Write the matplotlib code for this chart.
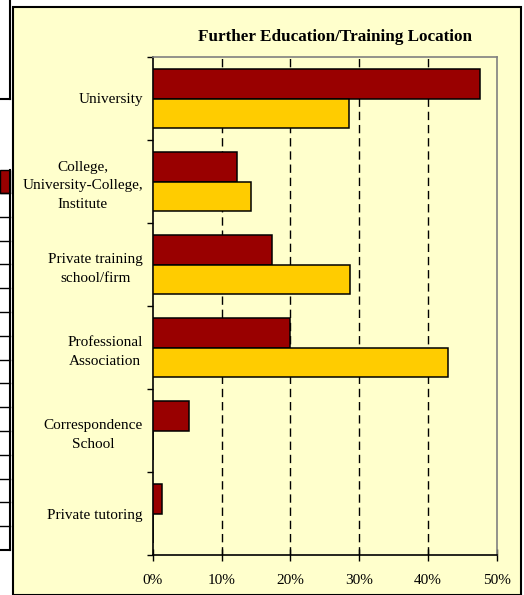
import numpy as np
import matplotlib
matplotlib.use("Agg")
import matplotlib.pyplot as plt
from matplotlib.patches import Rectangle
from matplotlib.lines import Line2D

# 数据
categories = [
    "University",
    "College,\nUniversity-College,\nInstitute",
    "Private training\nschool/firm",
    "Professional\nAssociation",
    "Correspondence\nSchool",
    "Private tutoring",
]
series_red = [47.5, 12.2, 17.3, 19.9, 5.2, 1.3]
series_yellow = [28.5, 14.3, 28.6, 42.9, 0.0, 0.0]
x_ticks = [0, 10, 20, 30, 40, 50]
x_labels = ["0%", "10%", "20%", "30%", "40%", "50%"]
title = "Further Education/Training Location"

W, H = 524, 595
plt.rcParams["font.family"] = ["Liberation Serif", "DejaVu Serif"]
fig = plt.figure(figsize=(W / 100, H / 100), dpi=100)
fig.patch.set_facecolor("white")


def px(x, y):
    return x / W, 1 - y / H


# 图表区背景和边框
x0, y0 = px(13, 595)
x1, y1 = px(521, 7)
fig.add_artist(Rectangle((x0, y0), x1 - x0, y1 - y0, transform=fig.transFigure,
                         facecolor="#FFFFCC", edgecolor="black", lw=1.5, zorder=0))

# 左边被截掉的表格残片
def fline(xs, ys, lw=1.2):
    fx = [x / W for x in xs]
    fy = [1 - y / H for y in ys]
    fig.add_artist(Line2D(fx, fy, transform=fig.transFigure, color="black", lw=lw))

fline([10, 10], [0, 99], lw=1.5)
fline([0, 10], [99, 99], lw=1.5)
rx, ry = px(0, 193)
fig.add_artist(Rectangle((rx, ry), 10 / W, 23 / H, transform=fig.transFigure,
                         facecolor="#990000", edgecolor="black", lw=1))
fline([10, 10], [170, 550], lw=1.5)
for yy in np.linspace(193, 550, 16):
    fline([0, 10], [yy, yy], lw=1.5 if yy > 549 else 1.0)

# 坐标轴
ax = fig.add_axes([152.7 / W, 1 - 555 / H, (497 - 152.7) / W, (555 - 57) / H])
ax.set_facecolor("#FFFFCC")

y = np.arange(len(categories))
h = 0.35
ax.barh(y - h / 2, series_red, height=h, color="#990000", edgecolor="black", lw=1.1, zorder=3)
ax.barh(y + h / 2, series_yellow, height=h, color="#FFCC00", edgecolor="black", lw=1.1, zorder=3)

ax.set_xlim(0, 50)
ax.set_ylim(len(categories) - 0.5, -0.5)
ax.set_xticks(x_ticks)
ax.set_xticklabels(x_labels, fontsize=11)
ax.tick_params(axis="x", direction="inout", length=8, width=1, pad=9.5)

ax.set_yticks(y)
ax.set_yticklabels(categories, fontsize=11, multialignment="center", linespacing=1.6)
ax.set_yticks(np.arange(-0.5, len(categories)), minor=True)
ax.tick_params(axis="y", which="major", length=0, pad=7)
ax.tick_params(axis="y", which="minor", direction="out", length=4, width=1)

for xv in x_ticks[1:-1]:
    ax.axvline(xv, color="black", lw=1, dashes=(6, 3.5), zorder=1)

for s in ["left", "bottom"]:
    ax.spines[s].set_color("black")
    ax.spines[s].set_linewidth(1.2)
for s in ["top", "right"]:
    ax.spines[s].set_color("#808080")
    ax.spines[s].set_linewidth(1.2)

fig.text(335 / W, 1 - 37 / H, title, ha="center", va="center",
         fontsize=12.3, fontweight="bold")

fig.savefig("out.png", dpi=100)
